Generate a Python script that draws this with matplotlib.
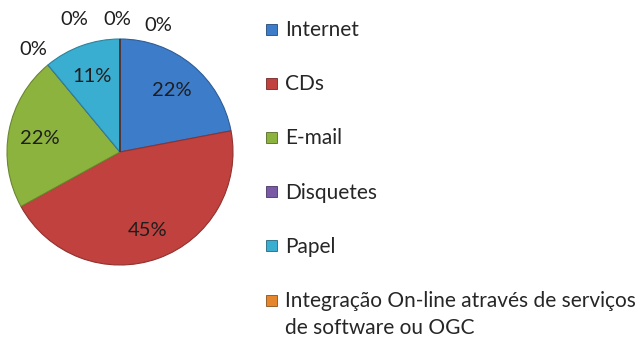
import numpy as np
import matplotlib
matplotlib.use("Agg")
import matplotlib.pyplot as plt
from matplotlib.patches import Rectangle
from matplotlib.colors import to_rgb

plt.rcParams['font.family'] = ['Lato', 'DejaVu Sans']

categories = ["Internet", "CDs", "E-mail", "Disquetes", "Papel",
              "Integração On-line através de serviços\nde software ou OGC", "", ""]
shares = [22, 45, 22, 0, 11, 0, 0, 0]
colors = ["#3d7cc9", "#c0413e", "#8db33f", "#7a5aa6", "#3aaed0", "#e5862c",
          "#2c4d7a", "#7a2a28"]
legend_count = 6

W, H, DPI = 638, 340, 100
fig = plt.figure(figsize=(W / DPI, H / DPI), dpi=DPI)
ax = fig.add_axes([7 / W, 75 / H, 226 / W, 226 / H])


def darker(c, f=0.7):
    r, g, b = to_rgb(c)
    return (r * f, g * f, b * f)


wedges, _ = ax.pie(shares, colors=colors, startangle=90, counterclock=False,
                   radius=1.0, wedgeprops=dict(linewidth=0.8))
for w, c in zip(wedges, colors):
    w.set_edgecolor(darker(c, 0.75))

ax.set_xlim(-1.0, 1.0)
ax.set_ylim(-1.0, 1.0)
ax.set_aspect('equal')

# percentage labels: inside for non-zero slices, outside (staggered) for empty ones
top_stagger = [(-0.40, 1.19), (-0.02, 1.19), (0.34, 1.13)]
k_top = 0
total = sum(shares)
for w, v in zip(wedges, shares):
    mid = np.deg2rad((w.theta1 + w.theta2) / 2)
    txt = f"{round(100 * v / total):d}%"
    if v > 0:
        x, y = 0.72 * np.cos(mid), 0.72 * np.sin(mid)
    else:
        ang = np.rad2deg(mid) % 360
        if abs(ang - 90) < 1:
            x, y = top_stagger[k_top]
            k_top += 1
        else:
            x, y = 1.20 * np.cos(mid), 1.20 * np.sin(mid)
    ax.text(x, y, txt, ha='center', va='center_baseline', fontsize=14.5,
            color='#1e1e1e', clip_on=False)

# legend: square swatch + label, one row per category
row_top = 29          # pixel centre of the first row
row_step = 54.2       # pixels between rows
line_step = 27        # pixels between wrapped label lines
sw = 11               # swatch size in pixels
for i in range(legend_count):
    yc = row_top + i * row_step
    c = colors[i]
    fig.add_artist(Rectangle((266 / W, 1 - (yc + sw / 2) / H), sw / W, sw / H,
                             transform=fig.transFigure, facecolor=c,
                             edgecolor=darker(c, 0.6), linewidth=0.6))
    for j, line in enumerate(categories[i].split("\n")):
        fig.text(285 / W, 1 - (yc + 7 + j * line_step) / H, line, ha='left',
                 va='baseline', fontsize=15, color='#262626')

fig.savefig("out.png", dpi=DPI)
